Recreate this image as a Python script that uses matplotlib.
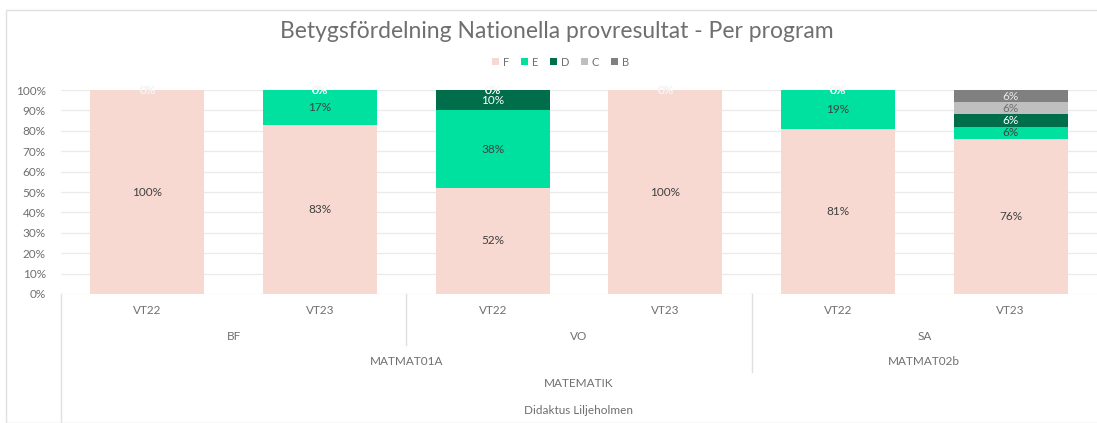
import numpy as np
import matplotlib.pyplot as plt
from matplotlib.patches import Rectangle

# data
terms = ["VT22", "VT23", "VT22", "VT23", "VT22", "VT23"]
programs = ["BF", "VO", "SA"]
program_span = [(0, 1), (2, 3), (4, 5)]
courses = ["MATMAT01A", "MATMAT02b"]
course_span = [(0, 3), (4, 5)]
subject = "MATEMATIK"
school = "Didaktus Liljeholmen"

grades = ["F", "E", "D", "C", "B"]
F = [100, 83, 52, 100, 81, 76]
E = [0, 17, 38, 0, 19, 6]
D = [0, 0, 10, 0, 0, 6]
C = [0, 0, 0, 0, 0, 6]
B = [0, 0, 0, 0, 0, 6]
values = [F, E, D, C, B]

colors = ["#f8d9d1", "#00e09f", "#006e4b", "#bfbfbf", "#808080"]
label_colors = ["#404040", "#404040", "#ffffff", "#707070", "#e8e8e8"]
text_gray = "#6f6f6f"

plt.rcParams["font.family"] = ["Lato", "DejaVu Sans"]

fig = plt.figure(figsize=(10.97, 4.23), dpi=100)
fig.patches.append(Rectangle((6 / 1097, 0), 1.2, (423 - 10) / 423,
                             transform=fig.transFigure, fill=False,
                             edgecolor="#e0e0e0", linewidth=1))
ax = fig.add_axes([61 / 1097, (423 - 294) / 423, 1036 / 1097, 204 / 423])

x = np.arange(len(terms))
bottom = np.zeros(len(terms))
for g, vals, col, lc in zip(grades, values, colors, label_colors):
    vals = np.array(vals, dtype=float)
    ax.bar(x, vals, bottom=bottom, width=0.66, color=col, label=g, zorder=2)
    for xi, v, b in zip(x, vals, bottom):
        if v > 0:
            ax.text(xi, b + v / 2, "%d%%" % v, ha="center", va="center",
                    fontsize=8.5, color=lc, zorder=3)
        else:
            ax.text(xi, b, "%d%%" % v, ha="center", va="center",
                    fontsize=8.5, color="#f4f4f4", zorder=3)
    bottom += vals

ax.set_xlim(-0.5, 5.5)
ax.set_ylim(0, 100)
ax.set_yticks(np.arange(0, 101, 10))
ax.set_yticklabels(["%d%%" % t for t in range(0, 101, 10)])
ax.tick_params(axis="y", length=0, labelsize=8.5, labelcolor=text_gray, pad=11)
ax.set_xticks([])
ax.grid(axis="y", color="#ebebeb", linewidth=1, zorder=0)
for s in ax.spines.values():
    s.set_visible(False)

# hierarchical category axis
tr = ax.get_xaxis_transform()
txt = dict(ha="center", va="center", fontsize=8.5, color=text_gray)
for xi, t in zip(x, terms):
    ax.text(xi, -0.083, t, transform=tr, **txt)
for p, (a, b) in zip(programs, program_span):
    ax.text((a + b) / 2, -0.206, p, transform=tr, **txt)
for c, (a, b) in zip(courses, course_span):
    ax.text((a + b) / 2, -0.333, c, transform=tr, **txt)
ax.text((x[0] + x[-1]) / 2, -0.441, subject, transform=tr, **txt)
ax.text((x[0] + x[-1]) / 2, -0.569, school, transform=tr, **txt)

line = dict(color="#e0e0e0", linewidth=1, clip_on=False, transform=tr)
ax.plot([-0.5, -0.5], [0, -0.65], **line)
ax.plot([program_span[0][1] + 0.5] * 2, [0, -0.25], **line)
ax.plot([course_span[0][1] + 0.5] * 2, [0, -0.38], **line)

fig.text(0.508, 1 - 32 / 423, "Betygsfördelning Nationella provresultat - Per program",
         ha="center", va="center", fontsize=16.5, color=text_gray)
fig.legend(loc="center", bbox_to_anchor=(0.511, 1 - 62 / 423), ncol=5,
           frameon=False, fontsize=8, handlelength=0.6, handleheight=0.6,
           handletextpad=0.35, columnspacing=1.1, labelcolor=text_gray)

fig.savefig("out.png", dpi=100)
